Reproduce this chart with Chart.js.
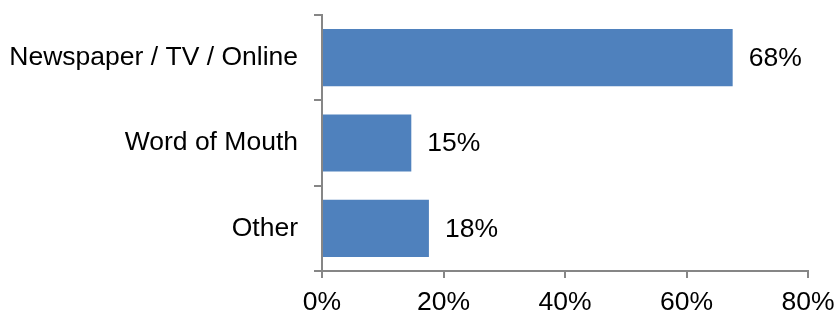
<!DOCTYPE html>
<html>
<head>
<meta charset="utf-8">
<script src="https://cdn.jsdelivr.net/npm/chart.js@4/dist/chart.umd.min.js"></script>
<style>
  html, body { margin: 0; padding: 0; background: #fff; }
  #wrap { width: 835px; height: 313px; }
</style>
</head>
<body>
<div id="wrap"><canvas id="myChart"></canvas></div>
<script>
const categorias = ['Newspaper / TV / Online', 'Word of Mouth', 'Other'];
const valores = [67.6, 14.7, 17.6];
const ticksX = [0, 20, 40, 60, 80];

const axisColor = '#868686';
const fuente = '"Liberation Sans", Arial, sans-serif';

// etiquetas al final de cada barra
const etiquetas = {
    id: 'etiquetas',
    afterDatasetsDraw(chart) {
        const ctx = chart.ctx;
        const meta = chart.getDatasetMeta(0);
        ctx.save();
        ctx.font = '26.5px ' + fuente;
        ctx.fillStyle = '#000';
        ctx.textAlign = 'left';
        ctx.textBaseline = 'middle';
        meta.data.forEach((bar, i) => {
            ctx.fillText(Math.round(valores[i]) + '%', bar.x + 16, bar.y + 1);
        });
        ctx.restore();
    }
};

const ctx = document.getElementById('myChart').getContext('2d');
const myChart = new Chart(ctx, {
    type: 'bar',
    data: {
        labels: categorias,
        datasets: [{
            data: valores,
            backgroundColor: '#4F81BD',
            borderWidth: 0,
            barPercentage: 0.67,
            categoryPercentage: 1
        }]
    },
    options: {
        indexAxis: 'y',
        responsive: true,
        maintainAspectRatio: false,
        animation: false,
        layout: { padding: { top: 15, right: 27, left: 0, bottom: 0 } },
        plugins: {
            legend: { display: false },
            tooltip: { enabled: false }
        },
        scales: {
            x: {
                min: 0,
                max: 80,
                afterBuildTicks: s => { s.ticks = ticksX.map(v => ({ value: v })); },
                afterFit: s => { s.height = 42; s.paddingLeft = 0; s.paddingRight = 0; },
                border: { color: axisColor, width: 2 },
                grid: { drawOnChartArea: false, drawTicks: true, tickLength: 7, color: axisColor, lineWidth: 2 },
                ticks: {
                    color: '#000',
                    padding: 9,
                    font: { family: fuente, size: 26.5 },
                    callback: v => v + '%'
                }
            },
            y: {
                afterFit: s => { s.width = 322; s.paddingTop = 0; s.paddingBottom = 0; },
                border: { color: axisColor, width: 2 },
                grid: { drawOnChartArea: false, drawTicks: true, tickLength: 8, color: axisColor, lineWidth: 2 },
                ticks: {
                    color: '#000',
                    padding: 16,
                    font: { family: fuente, size: 26.5 }
                }
            }
        }
    },
    plugins: [etiquetas]
});
</script>
</body>
</html>
